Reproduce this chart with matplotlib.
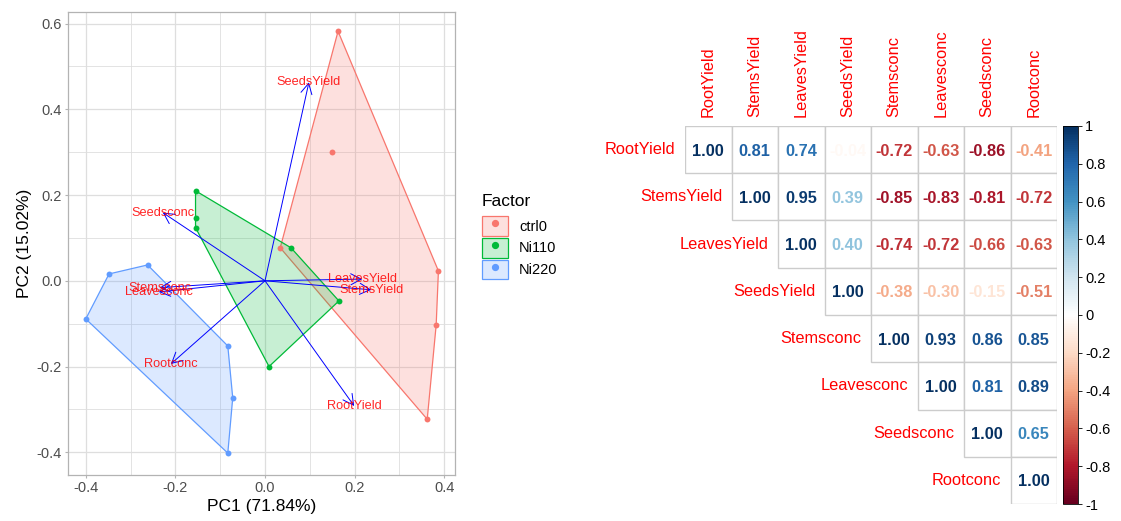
import numpy as np
import matplotlib
matplotlib.use("Agg")
import matplotlib.pyplot as plt
from matplotlib.patches import Polygon, Patch, Rectangle
from matplotlib.lines import Line2D
from matplotlib.colors import LinearSegmentedColormap, Normalize, to_rgba
from matplotlib.cm import ScalarMappable
from matplotlib.ticker import FormatStrFormatter

plt.rcParams['font.family'] = ['Liberation Sans', 'DejaVu Sans']
plt.rcParams['axes.unicode_minus'] = False

# PCA scores per group
groups = ['ctrl0', 'Ni110', 'Ni220']
group_colors = ['#F8766D', '#00BA38', '#619CFF']
ctrl0_x = [0.163, 0.150, 0.034, 0.387, 0.382, 0.362]
ctrl0_y = [0.582, 0.301, 0.077, 0.023, -0.103, -0.323]
ni110_x = [-0.155, -0.155, -0.155, 0.058, 0.165, 0.009]
ni110_y = [0.210, 0.147, 0.124, 0.077, -0.047, -0.200]
ni220_x = [-0.262, -0.348, -0.400, -0.083, -0.072, -0.083]
ni220_y = [0.037, 0.016, -0.089, -0.152, -0.273, -0.402]

# variable loadings (arrow tips)
var_names = ['SeedsYield', 'Seedsconc', 'Stemsconc', 'Leavesconc',
             'LeavesYield', 'StemsYield', 'Rootconc', 'RootYield']
load_x = [0.098, -0.228, -0.235, -0.237, 0.217, 0.237, -0.210, 0.199]
load_y = [0.463, 0.159, -0.016, -0.026, 0.004, -0.021, -0.194, -0.292]

# correlation matrix, upper triangle row by row
corr_vars = ['RootYield', 'StemsYield', 'LeavesYield', 'SeedsYield',
             'Stemsconc', 'Leavesconc', 'Seedsconc', 'Rootconc']
corr_upper = [
    [1.00, 0.81, 0.74, -0.04, -0.72, -0.63, -0.86, -0.41],
    [1.00, 0.95, 0.39, -0.85, -0.83, -0.81, -0.72],
    [1.00, 0.40, -0.74, -0.72, -0.66, -0.63],
    [1.00, -0.38, -0.30, -0.15, -0.51],
    [1.00, 0.93, 0.86, 0.85],
    [1.00, 0.81, 0.89],
    [1.00, 0.65],
    [1.00],
]


def convex_hull(xs, ys):
    pts = sorted(set(zip(xs, ys)))

    def cross(o, a, b):
        return (a[0]-o[0])*(b[1]-o[1]) - (a[1]-o[1])*(b[0]-o[0])
    lower, upper = [], []
    for p in pts:
        while len(lower) >= 2 and cross(lower[-2], lower[-1], p) <= 0:
            lower.pop()
        lower.append(p)
    for p in reversed(pts):
        while len(upper) >= 2 and cross(upper[-2], upper[-1], p) <= 0:
            upper.pop()
        upper.append(p)
    return lower[:-1] + upper[:-1]


W, H = 1121, 521
fig = plt.figure(figsize=(W/100, H/100), dpi=100)

# ---------------- PCA biplot ----------------
ax = fig.add_axes([68/W, 46/H, 387/W, 463/H])
score_x = [ctrl0_x, ni110_x, ni220_x]
score_y = [ctrl0_y, ni110_y, ni220_y]
for xs, ys, col in zip(score_x, score_y, group_colors):
    hull = convex_hull(xs, ys)
    ax.add_patch(Polygon(hull, closed=True, fc=to_rgba(col, 0.22), ec=col,
                         lw=0.9, zorder=2))
    ax.scatter(xs, ys, s=18, color=col, zorder=3, linewidths=0)

for x, y, name in zip(load_x, load_y, var_names):
    ax.annotate('', xy=(x, y), xytext=(0, 0),
                arrowprops=dict(arrowstyle='->,head_length=0.75,head_width=0.4',
                                color='blue', lw=0.7, shrinkA=0, shrinkB=0,
                                mutation_scale=10), zorder=4)
    ax.text(x, y, name, color='red', fontsize=9.2, ha='center', va='center',
            zorder=5, alpha=0.85)

ax.set_xlim(-0.4396, 0.424)
ax.set_ylim(-0.453, 0.627)
ax.set_xticks([-0.4, -0.2, 0.0, 0.2, 0.4])
ax.set_xticks([-0.3, -0.1, 0.1, 0.3], minor=True)
ax.set_yticks([-0.4, -0.2, 0.0, 0.2, 0.4, 0.6])
ax.set_yticks([-0.3, -0.1, 0.1, 0.3, 0.5], minor=True)
ax.xaxis.set_major_formatter(FormatStrFormatter('%.1f'))
ax.yaxis.set_major_formatter(FormatStrFormatter('%.1f'))
ax.grid(True, which='major', color='#DEDEDE', lw=0.9)
ax.grid(True, which='minor', color='#DEDEDE', lw=0.6)
ax.set_axisbelow(True)
ax.tick_params(which='major', length=2.5, color='#B3B3B3', labelsize=10.5,
               labelcolor='#4D4D4D', pad=2)
ax.tick_params(which='minor', length=0)
for s in ax.spines.values():
    s.set_color('#B3B3B3')
    s.set_linewidth(0.9)
ax.set_xlabel('PC1 (71.84%)', fontsize=12.5, labelpad=3)
ax.set_ylabel('PC2 (15.02%)', fontsize=12.5, labelpad=3)

# legend
fig.text(482/W, 1-201/H, 'Factor', fontsize=12.5, va='center', ha='left')
handles = [(Patch(fc=to_rgba(c, 0.22), ec=c, lw=0.9),
            Line2D([], [], marker='o', color=c, ls='', markersize=4.2))
           for c in group_colors]
fig.legend(handles, groups, loc='upper left',
           bbox_to_anchor=(482/W, 1-216/H), frameon=False, borderpad=0,
           fontsize=10.5, handlelength=1.78, handleheight=1.71,
           labelspacing=0.14, handletextpad=0.75, borderaxespad=0)

# ---------------- correlation plot ----------------
rdbu = ["#67001F", "#B2182B", "#D6604D", "#F4A582", "#FDDBC7", "#FFFFFF",
        "#D1E5F0", "#92C5DE", "#4393C3", "#2166AC", "#053061"]
cmap = LinearSegmentedColormap.from_list('corrRdBu', rdbu, N=200)
norm = Normalize(-1, 1)

n = len(corr_vars)
cx = fig.add_axes([685/W, 17/H, 372/W, 378/H])
cx.set_xlim(0, n)
cx.set_ylim(n, 0)
cx.axis('off')
for i, row in enumerate(corr_upper):
    for k, val in enumerate(row):
        j = i + k
        cx.add_patch(Rectangle((j, i), 1, 1, fc='white', ec='#CCCCCC', lw=1.0))
        cx.text(j + 0.5, i + 0.53, '%.2f' % val, ha='center', va='center',
                fontsize=11.8, fontweight='bold', color=cmap(norm(val)))
    cx.text(i - 0.2, i + 0.5, corr_vars[i], ha='right', va='center',
            color='red', fontsize=11.8, clip_on=False)
for j, name in enumerate(corr_vars):
    cx.text(j + 0.5, -0.2, name, ha='center', va='bottom', rotation=90,
            color='red', fontsize=11.8, clip_on=False)

cax = fig.add_axes([1063/W, 17/H, 15/W, 378/H])
cb = fig.colorbar(ScalarMappable(norm=norm, cmap=cmap), cax=cax)
ticks = np.linspace(-1, 1, 11)
cb.set_ticks(ticks)
cb.set_ticklabels(['%g' % round(t, 1) for t in ticks])
cb.outline.set_linewidth(0.6)
cax.tick_params(length=3, width=0.6, labelsize=10.5, pad=2)

fig.savefig('out.png', dpi=100)
